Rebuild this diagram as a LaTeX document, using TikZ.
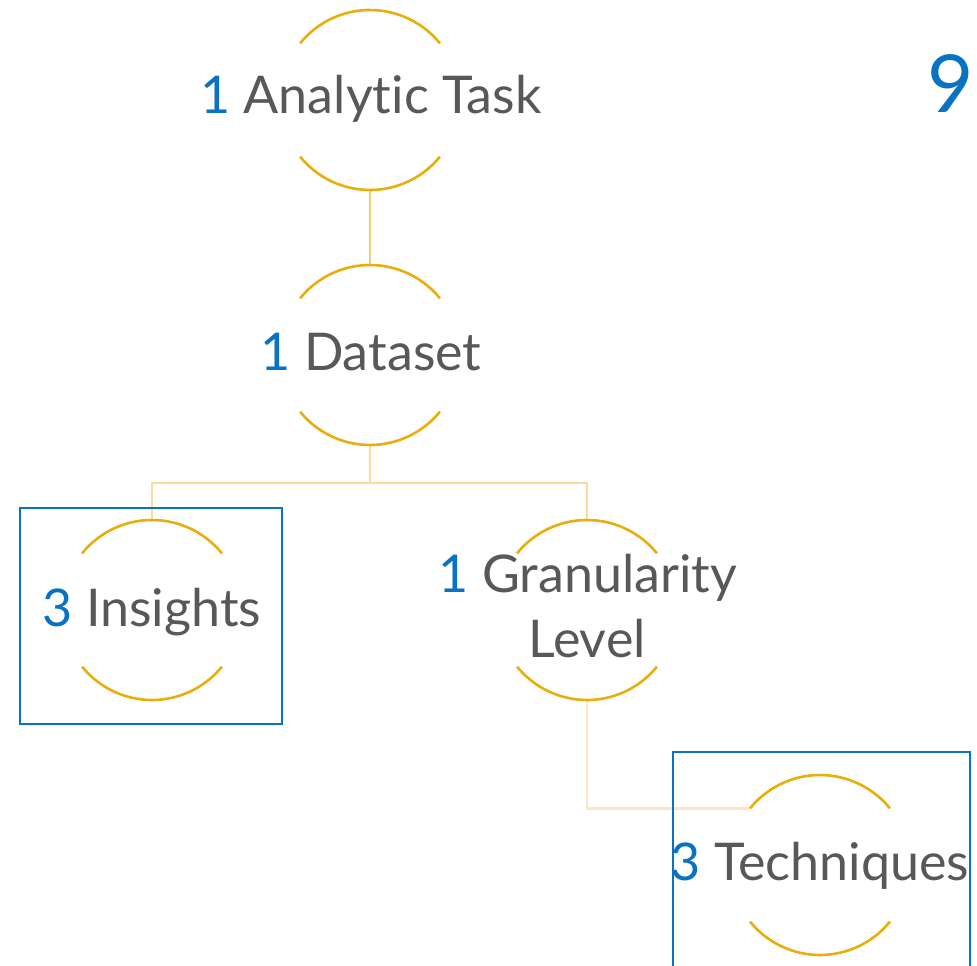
\documentclass[tikz,border=0pt]{standalone}
\usepackage{fontspec}
\setmainfont{Lato}[Ligatures=NoCommon]
\usetikzlibrary{calc}
\definecolor{arcgold}{HTML}{E8AE0C}
\definecolor{numblue}{HTML}{0A72C2}
\definecolor{txtgray}{HTML}{585858}
\definecolor{linkA}{HTML}{F6CC78}
\definecolor{linkB}{HTML}{FFDAA0}
\definecolor{linkC}{HTML}{FFE4C2}
\tikzset{
  ring/.style={circle, draw=none, minimum size=180pt, inner sep=0pt, outer sep=0pt},
  arcline/.style={draw=arcgold, line width=2.6pt},
  lbl/.style={anchor=base, inner sep=0pt, text=txtgray, font=\fontsize{52}{62}\selectfont, align=center},
  link/.style={line width=2.4pt},
  bluebox/.style={draw=numblue, line width=2.6pt},
}
\newcommand{\N}[1]{\textcolor{numblue}{#1}}
\newcommand{\arcs}[1]{%
  \draw[arcline] (#1.39) arc[start angle=39, end angle=141, radius=90pt];
  \draw[arcline] (#1.219) arc[start angle=219, end angle=321, radius=90pt];}
\begin{document}
\begin{tikzpicture}[x=1pt,y=1pt]
\useasboundingbox (0,0) rectangle (977,-966);
% rings
\node[ring] (at) at (370,-100) {};
\node[ring] (ds) at (370,-355) {};
\node[ring] (ins) at (152,-610) {};
\node[ring] (gr) at (587,-610) {};
\node[ring] (tq) at (820,-865) {};
\coordinate (split) at (370,-483);
% connectors
\draw[link, draw=linkA] (at.south) -- (ds.north);
\draw[link, draw=linkB] (ds.south) -- (split) -| (ins.north);
\draw[link, draw=linkB] (split) -| (gr.north);
\draw[link, draw=linkC] (gr.south) |- (tq.141);
% blue boxes
\draw[bluebox] (20,-508) rectangle (282,-724);
\draw[bluebox] (673,-752) rectangle (970,-975);
% arcs
\arcs{at}\arcs{ds}\arcs{ins}\arcs{gr}\arcs{tq}
% labels
\node[lbl] (tat) at (371,-113) {\N{1} Analytic Task};
\node[lbl] (tds) at (371,-370) {\N{1} Dataset};
\node[lbl] (tins) at (152,-626) {\N{3} Insights};
\node[lbl] (tgr1) at (588,-592) {\N{1} Granularity};
\node[lbl] (tgr2) at (587,-657) {Level};
\node[lbl] (ttq) at (820,-880) {\N{3} Techniques};
\node[anchor=base, inner sep=0pt, text=numblue, font=\fontsize{80}{90}\selectfont] (nine) at (951,-112) {9};
\end{tikzpicture}
\end{document}
